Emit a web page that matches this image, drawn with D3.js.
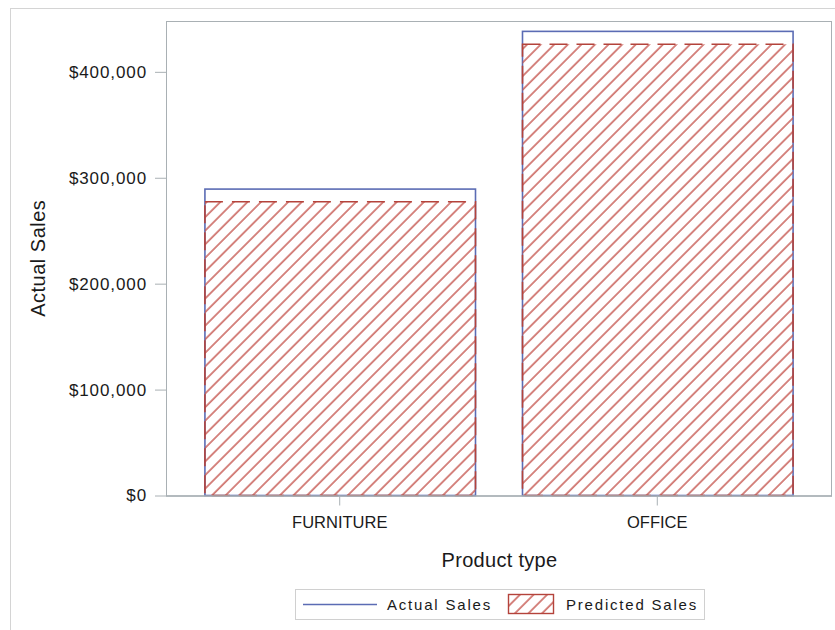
<!DOCTYPE html>
<html>
<head>
<meta charset="utf-8">
<script src="https://cdn.jsdelivr.net/npm/d3@7"></script>
<style>
  body { margin: 0; background: #fff; }
  svg text { font-family: "Liberation Sans", Arial, sans-serif; fill: #1a1a1a; }
</style>
</head>
<body>
<script>
// chart values
var categories = ["FURNITURE", "OFFICE"];
var actualSales = [289300, 438200];
var predictedSales = [277300, 426000];
var yTicks = [0, 100000, 200000, 300000, 400000];
var yMax = 448000;
var legendLabels = ["Actual Sales", "Predicted Sales"];

var width = 835,
    height = 630,
    plot = {left: 166, right: 831, top: 21, bottom: 495.5},
    blue = "#5b6cb4",
    red = "#b4433b";

var svg = d3.select("body").append("svg")
    .attr("width", width)
    .attr("height", height);

// hatch pattern for predicted bars
var defs = svg.append("defs");
defs.append("pattern")
    .attr("id", "hatch")
    .attr("patternUnits", "userSpaceOnUse")
    .attr("width", 9.6)
    .attr("height", 9.6)
    .attr("patternTransform", "rotate(45)")
    .append("line")
    .attr("x1", 1).attr("y1", -2)
    .attr("x2", 1).attr("y2", 12)
    .attr("stroke", "#c4524b")
    .attr("stroke-width", 1.4);

// outer frame
svg.append("rect")
    .attr("x", 10.5).attr("y", 8.5)
    .attr("width", 850).attr("height", 650)
    .attr("fill", "none")
    .attr("stroke", "#d4d4d4");

var x = d3.scaleBand()
    .domain(categories)
    .range([plot.left, plot.right])
    .paddingInner(0.148)
    .paddingOuter(0.121);

var y = d3.scaleLinear()
    .domain([0, yMax])
    .range([plot.bottom, plot.top]);

// plot frame
svg.append("rect")
    .attr("x", plot.left + 0.5).attr("y", plot.top + 0.5)
    .attr("width", plot.right - plot.left)
    .attr("height", plot.bottom - plot.top)
    .attr("fill", "none")
    .attr("stroke", "#a9b0b4");

// actual sales bars (outline only)
svg.selectAll(".actual")
    .data(categories)
    .enter().append("rect")
    .attr("class", "actual")
    .attr("x", function(d) { return x(d) + 0.5; })
    .attr("y", function(d, i) { return y(actualSales[i]); })
    .attr("width", x.bandwidth())
    .attr("height", function(d, i) { return plot.bottom - y(actualSales[i]); })
    .attr("fill", "none")
    .attr("stroke", blue)
    .attr("stroke-width", 1.6);

// predicted sales bars (hatched)
svg.selectAll(".predicted")
    .data(categories)
    .enter().append("rect")
    .attr("class", "predicted")
    .attr("x", function(d) { return x(d) + 0.5; })
    .attr("y", function(d, i) { return y(predictedSales[i]); })
    .attr("width", x.bandwidth())
    .attr("height", function(d, i) { return plot.bottom - y(predictedSales[i]); })
    .attr("fill", "url(#hatch)")
    .attr("stroke", red)
    .attr("stroke-width", 1.6)
    .attr("stroke-dasharray", "18,9");

// y axis
var yAxis = svg.append("g")
    .attr("transform", "translate(" + plot.left + ",0)")
    .call(d3.axisLeft(y)
        .tickValues(yTicks)
        .tickSize(11)
        .tickPadding(8)
        .tickFormat(function(d) { return "$" + d3.format(",")(d); }));
yAxis.select(".domain").remove();
yAxis.selectAll(".tick line").attr("stroke", "#a9b0b4");
yAxis.selectAll(".tick text")
    .style("font-size", "17px")
    .style("letter-spacing", "0.9px")
    .attr("fill", "#1a1a1a");

// x axis
var xAxis = svg.append("g")
    .attr("transform", "translate(0," + plot.bottom + ")")
    .call(d3.axisBottom(x).tickSize(10).tickPadding(11));
xAxis.select(".domain").remove();
xAxis.selectAll(".tick line").attr("stroke", "#a9b0b4");
xAxis.selectAll(".tick text")
    .style("font-size", "16.5px")
    .attr("fill", "#1a1a1a");

// axis line on top of bar outlines
svg.append("line")
    .attr("x1", plot.left).attr("x2", plot.right + 1)
    .attr("y1", plot.bottom + 0.5).attr("y2", plot.bottom + 0.5)
    .attr("stroke", "#a9b0b4")
    .attr("stroke-width", 1.5);

// axis titles
svg.append("text")
    .attr("x", (plot.left + plot.right) / 2 + 1)
    .attr("y", 567)
    .attr("text-anchor", "middle")
    .style("font-size", "20px")
    .style("letter-spacing", "0.3px")
    .text("Product type");

svg.append("text")
    .attr("transform", "translate(45," + ((plot.top + plot.bottom) / 2) + ") rotate(-90)")
    .attr("text-anchor", "middle")
    .style("font-size", "20px")
    .style("letter-spacing", "0.5px")
    .text("Actual Sales");

// legend
var legend = svg.append("g");
legend.append("rect")
    .attr("x", 295.5).attr("y", 589.5)
    .attr("width", 409).attr("height", 30)
    .attr("fill", "#fff")
    .attr("stroke", "#d0d0d0");
legend.append("line")
    .attr("x1", 303).attr("x2", 377)
    .attr("y1", 604.5).attr("y2", 604.5)
    .attr("stroke", blue)
    .attr("stroke-width", 1.6);
legend.append("text")
    .attr("x", 387).attr("y", 610)
    .style("font-size", "15px")
    .style("letter-spacing", "1.8px")
    .text(legendLabels[0]);
legend.append("rect")
    .attr("x", 508.5).attr("y", 594.5)
    .attr("width", 45).attr("height", 19)
    .attr("fill", "url(#hatch)")
    .attr("stroke", red)
    .attr("stroke-width", 1.4);
legend.append("text")
    .attr("x", 566).attr("y", 610)
    .style("font-size", "15px")
    .style("letter-spacing", "1.8px")
    .text(legendLabels[1]);
</script>
</body>
</html>
